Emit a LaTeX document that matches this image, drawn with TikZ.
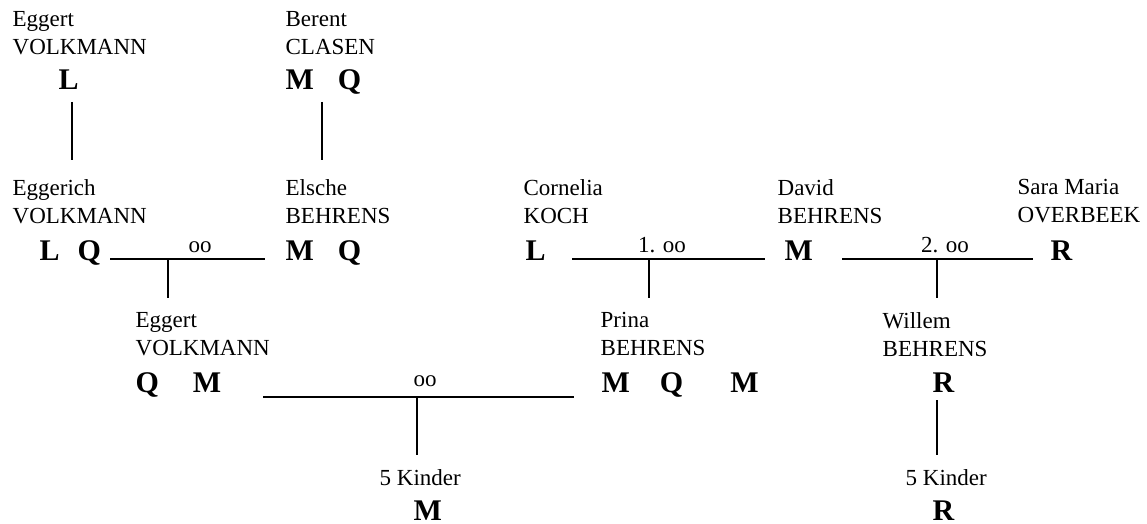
\documentclass[tikz,border=0pt]{standalone}
\usepackage{fontspec}
\setmainfont{Liberation Serif}
\usetikzlibrary{calc}
\newcommand{\gap}[1]{\hspace{#1pt}}

\begin{document}
\begin{tikzpicture}[x=1pt,y=-1pt,line width=1.3pt,
   nm/.style={anchor=north west,align=left,inner sep=0pt,font=\fontsize{23}{28}\selectfont},
   sg/.style={anchor=base west,inner sep=0pt,font=\fontsize{30}{30}\selectfont\bfseries},
   oo/.style={anchor=base,inner sep=0pt,font=\fontsize{23}{23}\selectfont}]
   \path[use as bounding box] (0,0) rectangle (1147,524);
   \node[nm] (eggert)    at (  12, 10.5) {Eggert\\VOLKMANN};
   \node[sg] (eggertS)   at (  58, 90  ) {L};
   \node[nm] (berent)    at ( 285, 10.5) {Berent\\CLASEN};
   \node[sg] (berentS)   at ( 285, 90  ) {M\gap{24}Q};
   \node[nm] (eggerich)  at (  12,178.5) {Eggerich\\VOLKMANN};
   \node[sg] (eggerichS) at (  39,260  ) {L\gap{18}Q};
   \node[nm] (elsche)    at ( 285,178.5) {Elsche\\BEHRENS};
   \node[sg] (elscheS)   at ( 285,260  ) {M\gap{24}Q};
   \node[nm] (cornelia)  at ( 523,178.5) {Cornelia\\KOCH};
   \node[sg] (corneliaS) at ( 525,260  ) {L};
   \node[nm] (david)     at ( 777,178.5) {David\\BEHRENS};
   \node[sg] (davidS)    at ( 784,260  ) {M};
   \node[nm] (sara)      at (1017,178.5) {Sara Maria\\OVERBEEK};
   \node[sg] (saraS)     at (1050,260  ) {R};
   \node[nm] (eggertb)   at ( 135,311.5) {Eggert\\VOLKMANN};
   \node[sg] (eggertbS)  at ( 135,392  ) {Q\gap{34}M};
   \node[nm] (prina)     at ( 600,311.5) {Prina\\BEHRENS};
   \node[sg] (prinaS)    at ( 601,392  ) {M\gap{30}Q\gap{47}M};
   \node[nm] (willem)    at ( 882,311.5) {Willem\\BEHRENS};
   \node[sg] (willemS)   at ( 932,392  ) {R};
   \node[nm] (kinderA)   at ( 379,469  ) {5 Kinder};
   \node[sg] (kinderAS)  at ( 413,520  ) {M};
   \node[nm] (kinderB)   at ( 905,469  ) {5 Kinder};
   \node[sg] (kinderBS)  at ( 932,520  ) {R};
   \node[oo] (ooA)       at ( 200,252  ) {oo};
   \node[oo] (ooB)       at ( 662,252  ) {1. oo};
   \node[oo] (ooC)       at ( 945,252  ) {2. oo};
   \node[oo] (ooD)       at ( 425,386  ) {oo};
   \coordinate (dA1) at (  72,102);
   \coordinate (dA2) at (  72,160);
   \coordinate (dB1) at ( 322,102);
   \coordinate (dB2) at ( 322,160);
   \coordinate (mAl) at ( 110,259);
   \coordinate (mAr) at ( 265,259);
   \coordinate (mAc) at ( 168,259);
   \coordinate (mAk) at ( 168,298);
   \coordinate (mBl) at ( 572,259);
   \coordinate (mBr) at ( 765,259);
   \coordinate (mBc) at ( 649,259);
   \coordinate (mBk) at ( 649,298);
   \coordinate (mCl) at ( 842,259);
   \coordinate (mCr) at (1033,259);
   \coordinate (mCc) at ( 937,259);
   \coordinate (mCk) at ( 937,298);
   \coordinate (mDl) at ( 263,397);
   \coordinate (mDr) at ( 574,397);
   \coordinate (mDc) at ( 417,397);
   \coordinate (mDk) at ( 417,455);
   \coordinate (dC1) at ( 937,400);
   \coordinate (dC2) at ( 937,455);
   \draw (dA1) -- (dA2);
   \draw (dB1) -- (dB2);
   \draw (mAl) -- (mAr);
   \draw (mAc) -- (mAk);
   \draw (mBl) -- (mBr);
   \draw (mBc) -- (mBk);
   \draw (mCl) -- (mCr);
   \draw (mCc) -- (mCk);
   \draw (mDl) -- (mDr);
   \draw (mDc) -- (mDk);
   \draw[line width=2.6pt] ($(mDc)!0.34!(mDk)$) -- ($(mDc)!0.69!(mDk)$);
   \draw (dC1) -- (dC2);
\end{tikzpicture}
\end{document}
